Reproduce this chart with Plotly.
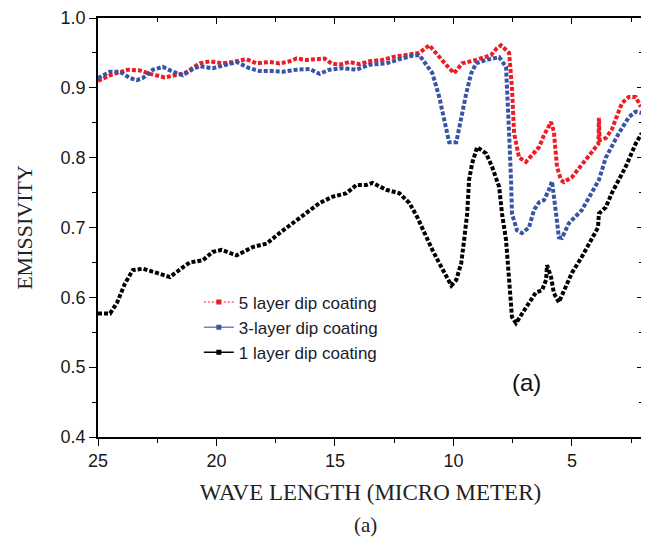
import plotly.graph_objects as go

# ---------------- data (wavelength in micrometre, emissivity) ----------------
wl_5 = [25.0, 24.49, 23.74, 23.23, 22.81, 22.18, 21.34, 20.71, 20.28, 19.74, 19.32,
        18.73, 18.31, 17.76, 17.34, 16.92, 16.62, 16.20, 15.78, 15.44, 15.15, 14.81,
        14.39, 13.97, 13.55, 13.0, 12.58, 11.99, 11.44, 11.02, 10.60, 10.31, 9.97,
        9.63, 9.04, 8.41, 8.16, 7.99, 7.65, 7.53, 7.44, 7.23, 6.94, 6.39, 6.18, 5.88,
        5.76, 5.63, 5.46, 5.34, 5.0, 4.58, 4.16, 3.88, 3.86, 3.83, 3.57, 3.32, 2.89,
        2.60, 2.31, 2.09]
em_5 = [0.910, 0.918, 0.926, 0.925, 0.920, 0.915, 0.921, 0.935, 0.938, 0.935, 0.937,
        0.941, 0.935, 0.937, 0.935, 0.938, 0.942, 0.940, 0.941, 0.942, 0.935, 0.933,
        0.937, 0.934, 0.938, 0.940, 0.944, 0.947, 0.950, 0.961, 0.944, 0.933, 0.921,
        0.935, 0.940, 0.947, 0.957, 0.961, 0.950, 0.900, 0.835, 0.800, 0.794, 0.815,
        0.832, 0.851, 0.837, 0.787, 0.768, 0.765, 0.772, 0.790, 0.806, 0.820, 0.857,
        0.825, 0.828, 0.840, 0.878, 0.887, 0.887, 0.873]

wl_3 = [25.0, 24.49, 24.07, 23.65, 23.36, 23.11, 22.68, 22.26, 21.84, 21.42, 21.04,
        20.71, 20.16, 19.57, 19.15, 18.60, 18.18, 17.63, 17.21, 16.62, 16.07, 15.65,
        15.23, 14.68, 14.09, 13.55, 12.83, 12.28, 11.74, 11.44, 10.89, 10.60, 10.39,
        10.18, 9.88, 9.67, 9.46, 9.25, 9.04, 8.62, 8.07, 7.78, 7.74, 7.65, 7.57, 7.53,
        7.32, 7.11, 6.81, 6.60, 6.39, 6.18, 5.97, 5.84, 5.67, 5.55, 5.42, 5.13, 4.58,
        4.28, 3.86, 3.57, 3.02, 2.60, 2.31, 2.05]
em_3 = [0.914, 0.923, 0.923, 0.914, 0.911, 0.914, 0.926, 0.930, 0.923, 0.918, 0.926,
        0.931, 0.928, 0.933, 0.937, 0.928, 0.924, 0.924, 0.923, 0.926, 0.927, 0.920,
        0.926, 0.928, 0.926, 0.933, 0.935, 0.941, 0.946, 0.947, 0.921, 0.887, 0.854,
        0.822, 0.822, 0.858, 0.892, 0.921, 0.935, 0.940, 0.944, 0.930, 0.887, 0.835,
        0.768, 0.720, 0.696, 0.692, 0.700, 0.725, 0.736, 0.739, 0.754, 0.766, 0.720,
        0.686, 0.685, 0.706, 0.725, 0.744, 0.768, 0.800, 0.835, 0.858, 0.866, 0.864]

wl_1 = [25.0, 24.49, 24.2, 23.86, 23.53, 23.11, 22.52, 21.97, 21.42, 21.13, 20.58,
        20.16, 19.78, 19.15, 18.47, 17.88, 17.34, 16.79, 16.20, 15.65, 15.11, 14.52,
        14.09, 13.67, 13.42, 12.83, 12.28, 11.86, 11.53, 11.23, 10.89, 10.60, 10.31,
        10.09, 9.88, 9.67, 9.55, 9.42, 9.34, 9.21, 9.0, 8.62, 8.37, 8.16, 8.07, 7.95,
        7.78, 7.65, 7.53, 7.36, 7.11, 6.81, 6.52, 6.26, 6.09, 6.05, 5.88, 5.76, 5.55,
        5.25, 5.0, 4.58, 4.28, 3.99, 3.90, 3.86, 3.57, 3.32, 3.02, 2.73, 2.31, 2.05]
em_1 = [0.577, 0.577, 0.592, 0.620, 0.639, 0.641, 0.635, 0.629, 0.643, 0.650, 0.653,
        0.665, 0.668, 0.660, 0.672, 0.677, 0.692, 0.706, 0.722, 0.735, 0.744, 0.749,
        0.761, 0.761, 0.764, 0.754, 0.749, 0.735, 0.715, 0.692, 0.668, 0.649, 0.629,
        0.617, 0.625, 0.649, 0.682, 0.720, 0.768, 0.792, 0.815, 0.806, 0.787, 0.768,
        0.758, 0.720, 0.682, 0.625, 0.572, 0.563, 0.577, 0.592, 0.607, 0.610, 0.625,
        0.646, 0.629, 0.606, 0.593, 0.615, 0.635, 0.658, 0.677, 0.696, 0.700, 0.720,
        0.729, 0.749, 0.768, 0.787, 0.820, 0.835]

series_names = ["5 layer dip coating", "3-layer dip coating", "1 layer dip coating"]
x_ticks = [25, 20, 15, 10, 5]
x_tick_text = ["25", "20", "15", "10", "5"]
y_ticks = [0.4, 0.5, 0.6, 0.7, 0.8, 0.9, 1.0]

RED = "#ee1c25"
BLUE = "#3a54a4"
BLACK = "#000000"

fig = go.Figure()

# data curves (dense square-dotted lines)
for wl, em, col in [(wl_5, em_5, RED), (wl_3, em_3, BLUE), (wl_1, em_1, BLACK)]:
    fig.add_trace(go.Scatter(x=wl, y=em, mode="lines", showlegend=False,
                             line=dict(color=col, width=4, dash="4px,2px"),
                             hoverinfo="skip"))

# legend-only entries
leg_styles = [
    dict(color=RED, width=1, dash="2px,2px"),
    dict(color="#6f86c4", width=1.5, dash="solid"),
    dict(color=BLACK, width=1.5, dash="solid"),
]
mk_cols = [RED, BLUE, BLACK]
for name, ls, mc in zip(series_names, leg_styles, mk_cols):
    fig.add_trace(go.Scatter(x=[None], y=[None], mode="lines+markers", name=name,
                             line=ls, marker=dict(symbol="square", size=5, color=mc)))

# dummy trace for mirrored (inside-tick) axes
fig.add_trace(go.Scatter(x=[None], y=[None], xaxis="x2", yaxis="y2",
                         showlegend=False, hoverinfo="skip"))

tick_font = dict(family="Liberation Sans, Arial, sans-serif", size=18, color="#1a1a1a")
title_font = dict(family="Liberation Serif, Times New Roman, serif", size=22, color="#222222")

fig.update_layout(
    width=641, height=533,
    margin=dict(l=90, r=6, t=10, b=104, autoexpand=False),
    paper_bgcolor="white", plot_bgcolor="white",
    showlegend=True,
    legend=dict(x=0.185, y=0.364, xanchor="left", yanchor="top",
                bgcolor="rgba(0,0,0,0)", borderwidth=0,
                font=dict(family="Liberation Sans, Arial, sans-serif", size=17, color="#1a1a2a"),
                itemwidth=30, tracegroupgap=0),
    xaxis=dict(range=[25, 2], tickvals=x_ticks, ticktext=x_tick_text, automargin=False,
               ticks="outside", ticklen=7, tickwidth=1.2, tickcolor="black",
               showline=True, linecolor="black", linewidth=1.5,
               showgrid=False, zeroline=False, tickfont=tick_font,
               minor=dict(ticks="outside", dtick=2.5, tick0=0, ticklen=4,
                          tickcolor="black", tickwidth=1.2, showgrid=False),
               title=dict(text="WAVE LENGTH (MICRO METER)", font=dict(
                   family="Liberation Serif, Times New Roman, serif", size=23, color="#222222"),
                   standoff=14)),
    yaxis=dict(range=[0.4, 1.0], tickvals=y_ticks, tickformat=".1f", automargin=False,
               ticks="outside", ticklen=7, tickwidth=1.2, tickcolor="black",
               showline=True, linecolor="black", linewidth=1.5,
               showgrid=False, zeroline=False, tickfont=tick_font,
               minor=dict(ticks="outside", dtick=0.05, tick0=0, ticklen=4,
                          tickcolor="black", tickwidth=1.2, showgrid=False),
               title=dict(text="EMISSIVITY", font=title_font, standoff=22)),
    xaxis2=dict(overlaying="x", side="top", range=[25, 2], tickvals=x_ticks, automargin=False,
                ticks="inside", ticklen=6, tickwidth=1.2, tickcolor="black",
                showticklabels=False, showline=True, linecolor="black", linewidth=1.5,
                showgrid=False, zeroline=False,
                minor=dict(ticks="inside", dtick=2.5, tick0=0, ticklen=4,
                           tickcolor="black", tickwidth=1.2, showgrid=False)),
    yaxis2=dict(overlaying="y", side="right", range=[0.4, 1.0], tickvals=y_ticks, automargin=False,
                ticks="inside", ticklen=6, tickwidth=1.2, tickcolor="black",
                showticklabels=False, showline=True, linecolor="black", linewidth=1.5,
                showgrid=False, zeroline=False,
                minor=dict(ticks="inside", dtick=0.05, tick0=0, ticklen=4,
                           tickcolor="black", tickwidth=1.2, showgrid=False)),
    annotations=[
        dict(text="(a)", x=0.787, y=0.129, xref="paper", yref="paper",
             showarrow=False, xanchor="center", yanchor="middle",
             font=dict(family="Liberation Sans, Arial, sans-serif", size=24, color="#111111")),
        dict(text="(a)", x=0.49, y=-0.21, xref="paper", yref="paper",
             showarrow=False, xanchor="center", yanchor="middle",
             font=dict(family="Liberation Serif, Times New Roman, serif", size=21, color="#222222")),
    ],
)

fig.write_html("out.html")
